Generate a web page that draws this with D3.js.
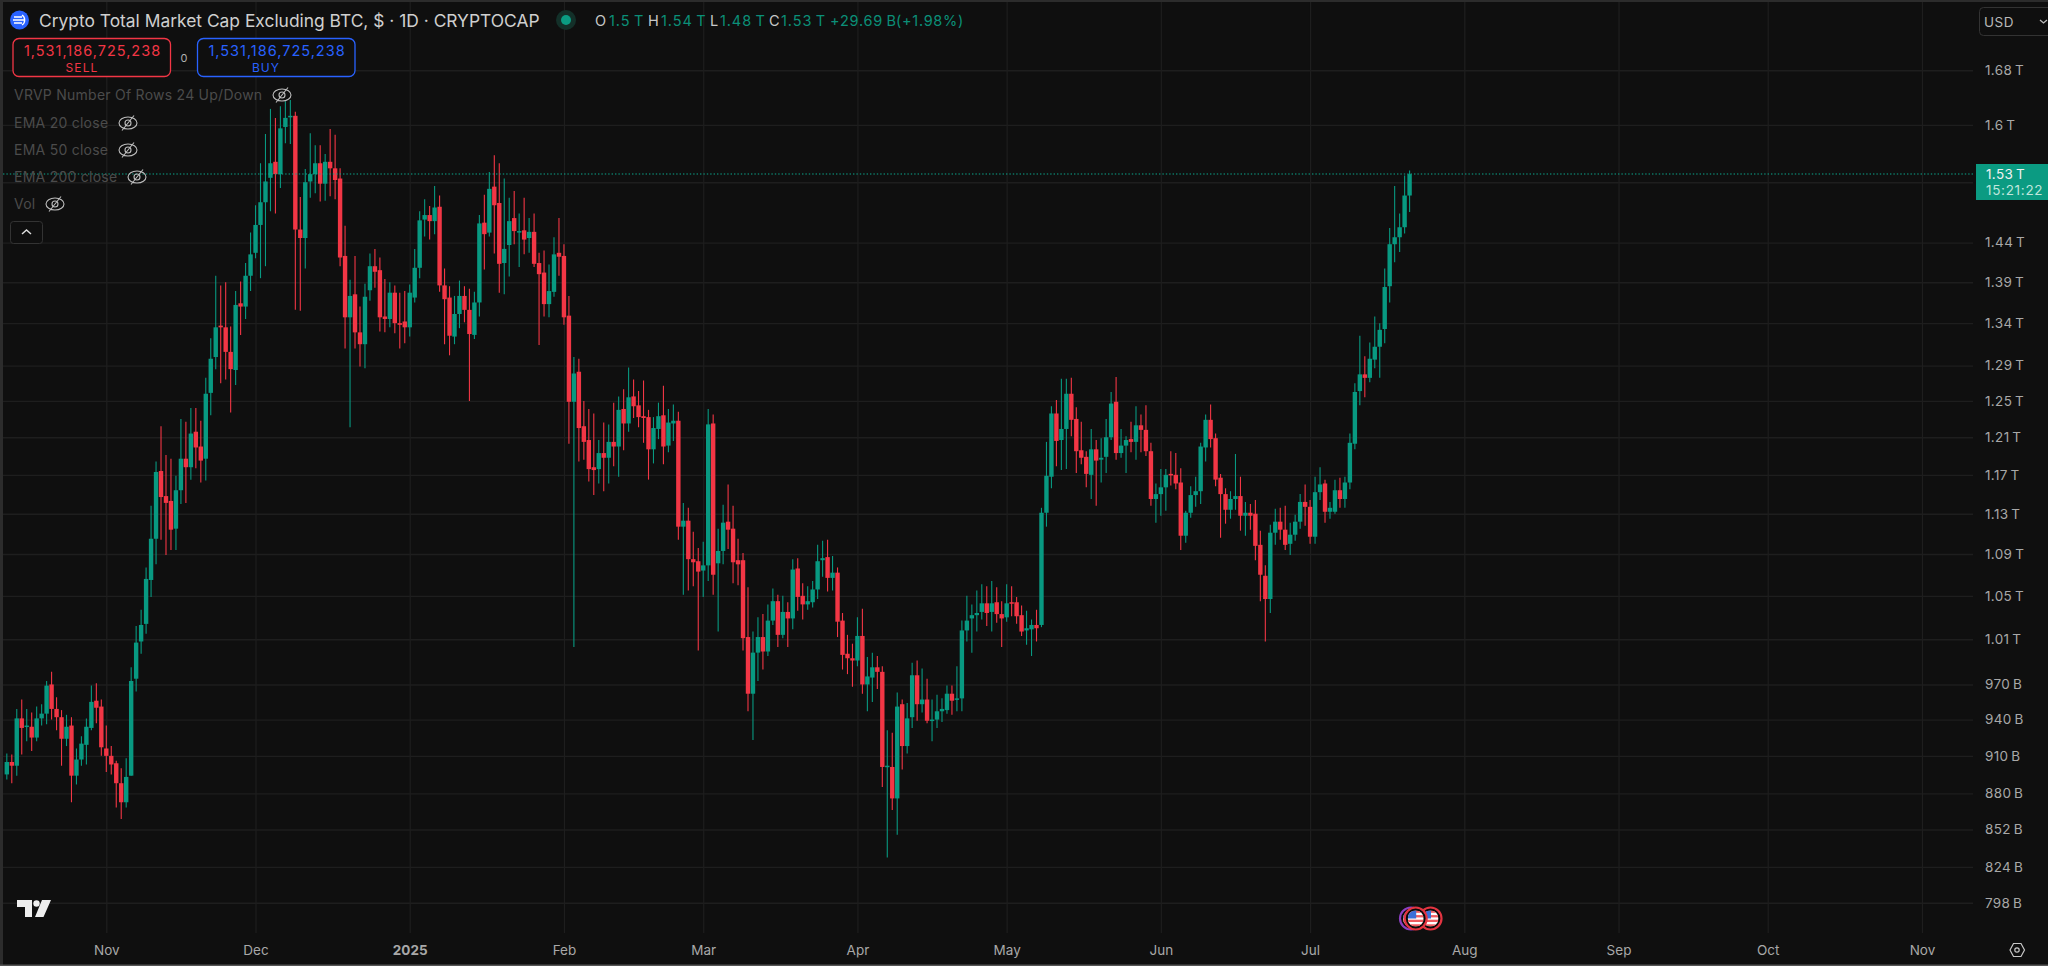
<!DOCTYPE html>
<html><head><meta charset="utf-8">
<script src="https://cdn.jsdelivr.net/npm/d3@7/dist/d3.min.js"></script>
<style>
html,body{margin:0;padding:0;background:#0f0f0f;overflow:hidden}
svg{display:block}
text{font-family:Inter,"Noto Sans",sans-serif}
.domain{display:none}
</style></head><body><svg id="c" width="2048" height="966"></svg>
<script>
// Daily OHLC in billions of USD, from 2024-10-12
const firstDay = "2024-10-12";
const opens = [
895,905,902,941,934,934,925,941,945,970,
949,942,924,935,894,907,919,933,956,951,
916,910,904,888,873,894,975,1008,1024,1065,
1105,1174,1148,1143,1115,1154,1187,1178,1216,1200,
1187,1259,1300,1337,1335,1306,1285,1364,1360,1398,
1427,1463,1493,1526,1548,1531,1597,1611,1613,1457,
1446,1521,1531,1546,1518,1548,1539,1525,1423,1347,
1375,1329,1315,1380,1410,1405,1348,1345,1377,1340,
1342,1335,1371,1408,1470,1476,1468,1487,1386,1371,
1324,1351,1373,1356,1326,1365,1466,1453,1514,1492,
1414,1437,1472,1454,1456,1446,1454,1414,1402,1363,
1378,1427,1423,1349,1249,1283,1222,1207,1178,1176,
1193,1188,1205,1200,1241,1225,1255,1245,1233,1232,
1197,1219,1234,1201,1225,1228,1117,1123,1085,1083,
1074,1079,1225,1081,1093,1122,1115,1084,1084,1012,
962,998,1012,999,1027,1045,1014,1035,1029,1076,
1050,1042,1044,1056,1084,1087,1067,1072,1027,997,
993,991,1013,970,976,985,981,901,901,876,
953,918,942,978,953,957,939,940,947,948,
962,957,958,1018,1029,1032,1035,1043,1035,1044,
1033,1030,1044,1044,1032,1018,1019,1023,1023,1131,
1168,1236,1207,1219,1258,1230,1196,1189,1170,1197,
1186,1189,1210,1249,1193,1201,1208,1205,1223,1218,
1195,1145,1150,1157,1171,1170,1162,1108,1131,1149,
1153,1199,1229,1209,1167,1150,1134,1145,1148,1128,
1131,1130,1099,1069,1047,1111,1122,1114,1100,1109,
1122,1142,1137,1107,1152,1161,1132,1132,1154,1145,
1162,1203,1261,1280,1276,1297,1312,1333,1385,1438,
1447,1460,1502];
const highs = [
912,911,949,957,949,946,951,953,973,981,
959,948,944,942,916,926,941,969,971,957,
935,918,906,900,908,985,1022,1037,1077,1138,
1184,1222,1191,1187,1169,1230,1227,1242,1242,1228,
1276,1322,1398,1386,1390,1336,1379,1391,1414,1453,
1489,1546,1587,1623,1610,1627,1634,1636,1619,1500,
1538,1588,1571,1571,1559,1594,1586,1539,1462,1393,
1423,1360,1388,1426,1432,1421,1394,1390,1386,1377,
1379,1387,1432,1481,1497,1488,1515,1502,1407,1385,
1373,1392,1385,1382,1378,1476,1503,1534,1557,1546,
1525,1499,1508,1478,1499,1472,1478,1427,1430,1412,
1447,1472,1438,1373,1300,1298,1250,1241,1236,1207,
1226,1224,1248,1255,1263,1288,1274,1261,1273,1240,
1232,1248,1267,1241,1246,1238,1141,1136,1112,1096,
1102,1241,1235,1115,1139,1160,1138,1105,1091,1058,
1017,1030,1033,1042,1057,1051,1050,1044,1085,1086,
1062,1059,1064,1099,1103,1104,1088,1077,1034,1014,
1006,1030,1038,994,998,995,986,931,929,963,
957,954,989,991,984,975,957,961,958,969,
969,986,1027,1050,1042,1055,1061,1059,1064,1058,
1045,1061,1059,1049,1041,1036,1028,1037,1136,1205,
1244,1251,1275,1275,1276,1243,1227,1195,1219,1207,
1209,1230,1260,1277,1219,1211,1227,1244,1235,1245,
1204,1161,1176,1176,1195,1193,1177,1133,1158,1168,
1204,1235,1246,1214,1171,1156,1153,1192,1168,1142,
1140,1144,1113,1079,1119,1135,1136,1138,1121,1129,
1150,1160,1144,1168,1178,1165,1142,1165,1167,1168,
1214,1270,1325,1301,1317,1348,1340,1407,1459,1515,
1478,1529,1536];
const lows = [
891,888,894,911,922,914,922,935,936,940,
931,902,918,873,887,902,903,931,937,910,
897,895,869,860,869,894,964,997,1015,1049,
1080,1104,1089,1094,1094,1140,1141,1165,1177,1162,
1164,1234,1286,1270,1274,1237,1268,1326,1345,1379,
1420,1395,1410,1481,1478,1512,1574,1573,1356,1355,
1407,1499,1505,1494,1495,1501,1497,1410,1310,1221,
1310,1289,1287,1367,1383,1330,1329,1335,1328,1310,
1316,1324,1365,1395,1448,1444,1451,1378,1315,1302,
1315,1334,1341,1250,1321,1348,1406,1448,1426,1377,
1375,1397,1438,1409,1425,1427,1409,1314,1348,1347,
1372,1398,1338,1203,1003,1184,1186,1163,1149,1161,
1153,1161,1179,1168,1196,1216,1231,1221,1204,1165,
1182,1208,1181,1194,1206,1104,1051,1055,1059,1000,
1049,1064,1051,1017,1080,1095,1062,1060,1000,947,
923,973,983,995,1023,1003,1011,1003,1019,1036,
1028,1037,1039,1047,1068,1054,1055,1012,983,979,
968,986,962,947,955,966,885,831,867,848,
899,912,933,939,946,937,922,933,938,945,
944,947,947,1008,998,1017,1028,1022,1017,1025,
1003,1026,1031,1024,1013,1005,995,1008,1021,1117,
1156,1179,1175,1176,1211,1172,1181,1157,1145,1138,
1162,1172,1207,1186,1188,1172,1194,1186,1194,1190,
1138,1121,1128,1133,1159,1155,1094,1101,1126,1137,
1140,1184,1199,1158,1106,1120,1125,1134,1113,1108,
1114,1084,1045,1008,1034,1099,1104,1094,1089,1103,
1115,1118,1100,1100,1144,1121,1125,1130,1136,1136,
1155,1197,1245,1254,1271,1287,1276,1316,1365,1415,
1428,1452,1480];
const closes = [
905,902,941,933,935,925,941,945,969,949,
942,924,934,894,907,920,934,955,950,917,
910,903,888,873,893,973,1007,1023,1066,1105,
1173,1147,1141,1114,1154,1187,1178,1214,1199,1185,
1258,1298,1335,1335,1306,1286,1362,1360,1398,1425,
1463,1493,1521,1546,1531,1595,1610,1613,1457,1446,
1520,1531,1546,1518,1548,1539,1523,1421,1347,1373,
1329,1315,1372,1410,1403,1347,1345,1377,1340,1338,
1335,1377,1408,1469,1476,1468,1486,1386,1369,1325,
1351,1373,1356,1327,1365,1465,1451,1511,1489,1413,
1432,1468,1455,1455,1444,1454,1413,1400,1363,1379,
1425,1422,1347,1249,1281,1220,1205,1176,1175,1193,
1188,1205,1200,1240,1225,1254,1244,1232,1231,1197,
1220,1233,1200,1226,1228,1117,1123,1085,1082,1073,
1079,1224,1070,1093,1121,1114,1082,1080,1011,962,
998,1012,999,1027,1045,1014,1035,1029,1075,1049,
1042,1045,1056,1083,1086,1067,1072,1026,996,993,
991,1013,970,977,985,981,901,902,876,951,
918,941,978,953,957,939,940,947,949,962,
956,958,1018,1027,1032,1034,1043,1034,1043,1033,
1029,1043,1043,1031,1017,1020,1023,1020,1131,1169,
1236,1206,1219,1258,1229,1195,1188,1171,1197,1185,
1188,1210,1247,1193,1201,1207,1205,1223,1218,1195,
1145,1150,1157,1170,1170,1161,1108,1131,1149,1153,
1200,1229,1208,1165,1150,1134,1145,1148,1128,1131,
1128,1098,1070,1047,1111,1122,1114,1099,1109,1122,
1142,1137,1107,1152,1160,1132,1136,1154,1145,1162,
1204,1260,1280,1276,1298,1312,1332,1384,1438,1447,
1460,1502,1531];
const lastClose = 1531.187;
const priceTicks = [1680,1600,1520,1440,1390,1340,1290,1250,1210,1170,1130,1090,1050,1010,970,940,910,880,852,824,798];
const priceLabels = ["1.68\u2009T","1.6\u2009T","","1.44\u2009T","1.39\u2009T","1.34\u2009T","1.29\u2009T","1.25\u2009T","1.21\u2009T","1.17\u2009T","1.13\u2009T","1.09\u2009T","1.05\u2009T","1.01\u2009T","970\u2009B","940\u2009B","910\u2009B","880\u2009B","852\u2009B","824\u2009B","798\u2009B"];
const timeTicks = ["2024-11-01","2024-12-01","2025-01-01","2025-02-01","2025-03-01","2025-04-01","2025-05-01","2025-06-01","2025-07-01","2025-08-01","2025-09-01","2025-10-01","2025-11-01"];
const timeLabels = ["Nov","Dec","2025","Feb","Mar","Apr","May","Jun","Jul","Aug","Sep","Oct","Nov"];
const legendRows = ["VRVP Number Of Rows 24 Up/Down","EMA 20 close","EMA 50 close","EMA 200 close","Vol"];
const ohlcLegend = [["O","1.5\u2009T"],["H","1.54\u2009T"],["L","1.48\u2009T"],["C","1.53\u2009T"]];

const UP="#089981", DOWN="#f23645", GRID="#1e1e1e";
const svg=d3.select("#c");
const parse=d3.utcParse("%Y-%m-%d");
const x=d3.scaleUtc().domain([parse("2024-11-01"),parse("2025-08-01")]).range([106.3,1464.3]);
const y=d3.scaleLog().domain([798,1680]).range([902.7,70.3]);
const day0=parse(firstDay);
const data=closes.map((c,i)=>({date:d3.utcDay.offset(day0,i),o:opens[i],h:highs[i],l:lows[i],c}));

svg.append("rect").attr("width",2048).attr("height",966).attr("fill","#0f0f0f");

// grid
const gy=svg.append("g").attr("transform","translate(1973,0)")
  .call(d3.axisLeft(y).tickValues(priceTicks).tickSize(1970).tickFormat(""));
gy.selectAll("line").attr("stroke",GRID).attr("stroke-width",1.4);
const gx=svg.append("g").attr("transform","translate(0,933)")
  .call(d3.axisTop(x).tickValues(timeTicks.map(parse)).tickSize(933).tickFormat(""));
gx.selectAll("line").attr("stroke",GRID).attr("stroke-width",1.2);

// candles
const W=4.4;
const cg=svg.append("g");
cg.selectAll("line").data(data).join("line")
  .attr("x1",d=>x(d.date)).attr("x2",d=>x(d.date))
  .attr("y1",d=>y(d.h)).attr("y2",d=>y(d.l))
  .attr("stroke",d=>d.c>=d.o?UP:DOWN).attr("stroke-width",1.1);
cg.selectAll("rect").data(data).join("rect")
  .attr("x",d=>x(d.date)-W/2).attr("width",W)
  .attr("y",d=>y(Math.max(d.o,d.c)))
  .attr("height",d=>Math.max(1.5,Math.abs(y(d.o)-y(d.c))))
  .attr("fill",d=>d.c>=d.o?UP:DOWN);

// last price line
svg.append("line").attr("x1",3).attr("x2",1973).attr("y1",y(lastClose)).attr("y2",y(lastClose))
  .attr("stroke","#0aa88d").attr("stroke-width",1.2).attr("stroke-dasharray","1.4 2");

// price axis
const ay=svg.append("g").attr("transform","translate(1973,0)")
  .call(d3.axisRight(y).tickValues(priceTicks).tickSize(0).tickPadding(12)
  .tickFormat(v=>priceLabels[priceTicks.indexOf(v)]));
ay.selectAll("text").attr("fill","#a8a8a8").attr("font-size",13.5).style("letter-spacing","0.35px");
// last price tag
svg.append("rect").attr("x",1976).attr("y",164).attr("width",72).attr("height",36).attr("fill","#0b9b82");
svg.append("text").attr("x",1986).attr("y",179).attr("fill","#f2f2f2").attr("font-size",13.5).style("letter-spacing","0.35px").text("1.53\u2009T");
svg.append("text").attr("x",1986).attr("y",194.5).attr("fill","#bfe6dc").attr("font-size",13.5).style("letter-spacing","0.7px").text("15:21:22");

// time axis
const ax=svg.append("g").attr("transform","translate(0,933)")
  .call(d3.axisBottom(x).tickValues(timeTicks.map(parse)).tickSize(0).tickPadding(12)
  .tickFormat((d,i)=>timeLabels[i]));
ax.selectAll("text").attr("fill","#a8a8a8").attr("font-size",13.5)
  .attr("font-weight",(d,i)=>timeLabels[i]==="2025"?700:400);

// header
svg.append("circle").attr("cx",19.5).attr("cy",20).attr("r",9.5).attr("fill","#2962ff");
svg.append("path").attr("d","M14 17h8M13 20h11M14 23h8M22 15a6 6 0 0 1 0 10").attr("stroke","#fff").attr("stroke-width",1.3).attr("fill","none");
svg.append("text").attr("x",39).attr("y",26.5).attr("fill","#cfcfcf").attr("font-size",17.4)
  .text("Crypto Total Market Cap Excluding BTC, $ · 1D · CRYPTOCAP");
svg.append("circle").attr("cx",566).attr("cy",20).attr("r",10).attr("fill","#133029");
svg.append("circle").attr("cx",566).attr("cy",20).attr("r",5).attr("fill","#0b9b82");
const ohlcX=[595,648,710,769], ohlcV=[609,661,720,781];
ohlcLegend.forEach((r,i)=>{
  svg.append("text").attr("x",ohlcX[i]).attr("y",26).attr("fill","#c8c8c8").attr("font-size",14.5).text(r[0]);
  svg.append("text").attr("x",ohlcV[i]).attr("y",26).attr("fill","#0b8f78").attr("font-size",14.5).style("letter-spacing","0.9px").text(r[1]);
});
svg.append("text").attr("x",830).attr("y",26).attr("fill","#0b8f78").attr("font-size",14.5).style("letter-spacing","0.8px").text("+29.69\u2009B");
svg.append("text").attr("x",896).attr("y",26).attr("fill","#0b8f78").attr("font-size",14.5).style("letter-spacing","0.7px").text("(+1.98%)");

// buy sell
function box(x0,x1,col,num,lab,cn,cl){
  svg.append("rect").attr("x",x0).attr("y",38.5).attr("width",x1-x0).attr("height",38).attr("rx",6).attr("fill","#0f0f0f").attr("stroke",col).attr("stroke-width",1.3);
  svg.append("text").attr("x",cn).attr("y",56).attr("text-anchor","middle").attr("fill",col).attr("font-size",14.5).style("letter-spacing","1px").text(num);
  svg.append("text").attr("x",cl).attr("y",71.5).attr("text-anchor","middle").attr("fill",col).attr("font-size",12).style("letter-spacing","1.1px").text(lab);
}
box(13,170.5,DOWN,"1,531,186,725,238","SELL",92.5,82);
box(197.5,355,"#2962ff","1,531,186,725,238","BUY",277,266);
svg.append("text").attr("x",184).attr("y",62).attr("text-anchor","middle").attr("fill","#b0b0b0").attr("font-size",11).text("0");

// legend rows
const rowY=[100,128,155,182,209], eyeX=[282,128,128,137,55];
function eye(cx,cy){
  const g=svg.append("g").attr("transform",`translate(${cx},${cy})`).attr("fill","none").attr("stroke","#bdbdbd").attr("stroke-width",1.1);
  g.append("ellipse").attr("rx",9).attr("ry",6);
  g.append("circle").attr("r",3);
  g.append("path").attr("d","M6 -7.5L-6 7.5");
}
legendRows.forEach((t,i)=>{
  svg.append("text").attr("x",14).attr("y",rowY[i]).attr("fill","#4b4b4b").attr("font-size",14).style("letter-spacing","0.25px").text(t);
  eye(eyeX[i],rowY[i]-5);
});
svg.append("rect").attr("x",10.5).attr("y",221.5).attr("width",32).attr("height",22).attr("rx",3).attr("fill","#0f0f0f").attr("stroke","#333");
svg.append("path").attr("d","M22 234l4.5-4 4.5 4").attr("fill","none").attr("stroke","#ddd").attr("stroke-width",1.5);

// USD box
svg.append("rect").attr("x",1979.5).attr("y",7.5).attr("width",80).attr("height",28).attr("rx",4).attr("fill","#0f0f0f").attr("stroke","#333");
svg.append("text").attr("x",1984).attr("y",27).attr("fill","#b8b8b8").attr("font-size",13.5).style("letter-spacing","0.5px").text("USD");
svg.append("path").attr("d","M2040 20l3.5 3 3.5-3").attr("fill","none").attr("stroke","#bbb").attr("stroke-width",1.3);

// watermark logo
svg.append("path").attr("fill","#eee").attr("d","M17 900H32V917H25V907H17ZM42 900H51L43.5 917H35Z");
svg.append("circle").attr("cx",36.5).attr("cy",903.5).attr("r",3.2).attr("fill","#eee");

// settings hex
svg.append("path").attr("d","M2010 950l3.5-6.5h7.5l3.5 6.5l-3.5 6.5h-7.5Z").attr("fill","none").attr("stroke","#c8c8c8").attr("stroke-width",1.2);
svg.append("circle").attr("cx",2017).attr("cy",950).attr("r",2.2).attr("fill","none").attr("stroke","#c8c8c8").attr("stroke-width",1.2);

// event flags
const defs=svg.append("defs");
defs.append("clipPath").attr("id","fc").append("circle").attr("cx",0).attr("cy",0).attr("r",8);
function flag(cx,ring){
  const g=svg.append("g").attr("transform",`translate(${cx},918.5)`);
  g.append("circle").attr("r",11).attr("fill","#0a0a0a").attr("stroke",ring).attr("stroke-width",2.2);
  const f=g.append("g").attr("clip-path","url(#fc)");
  f.append("rect").attr("x",-8).attr("y",-8).attr("width",16).attr("height",16).attr("fill","#fff");
  [-8,-3.4,1.2,5.8].forEach(s=>f.append("rect").attr("x",-8).attr("y",s).attr("width",16).attr("height",2.3).attr("fill","#ef5a5f"));
  f.append("rect").attr("x",-8).attr("y",-8).attr("width",8.5).attr("height",8).attr("fill","#3b6fd8");
}
flag(1411,"#8b3fc0");
flag(1430.5,"#e33441");
flag(1415.7,"#e33441");

// frame edges
svg.append("rect").attr("width",2048).attr("height",2).attr("fill","#2c2c2c");
svg.append("rect").attr("width",3).attr("height",966).attr("fill","#2c2c2c");
svg.append("rect").attr("y",964.5).attr("width",2048).attr("height",1.5).attr("fill","#555");
</script></body></html>
